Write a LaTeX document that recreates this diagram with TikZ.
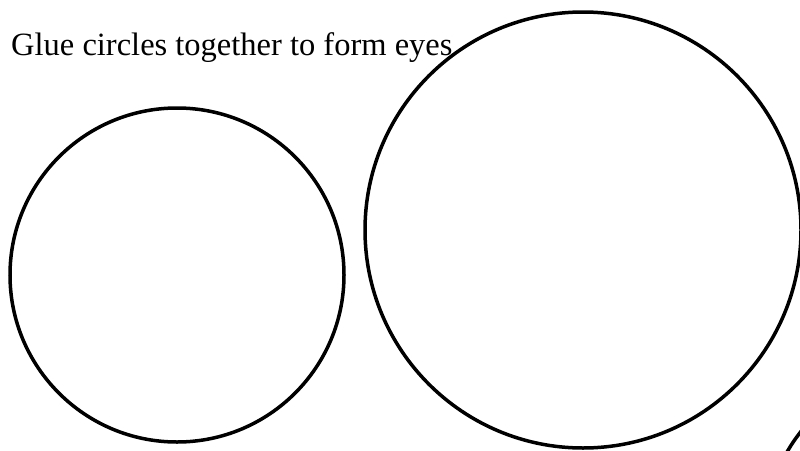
\documentclass[tikz,border=0pt]{standalone}
\usepackage{fontspec}
\setmainfont{Liberation Serif}
\begin{document}
\begin{tikzpicture}[x=1pt,y=-1pt,
  eye/.style={draw=black, line width=3.5pt, circle, inner sep=0pt},
  lbl/.style={anchor=base west, inner sep=0pt, font=\fontsize{32.5}{36}\selectfont}]
\useasboundingbox (0,0) rectangle (800,450);
\clip (0,0) rectangle (800,450);
\fill[white] (0,0) rectangle (800,450);
\node[lbl] (title) at (11,55) {Glue circles together to form eyes};
\node[eye, minimum size=334pt] (small) at (177,275) {};
\node[eye, minimum size=436pt] (big) at (583,230) {};
\coordinate (p1) at (787,452);
\coordinate (p2) at (802,430);
\draw[line width=3.5pt] (p1) .. controls (793,442) .. (p2);
\end{tikzpicture}
\end{document}
